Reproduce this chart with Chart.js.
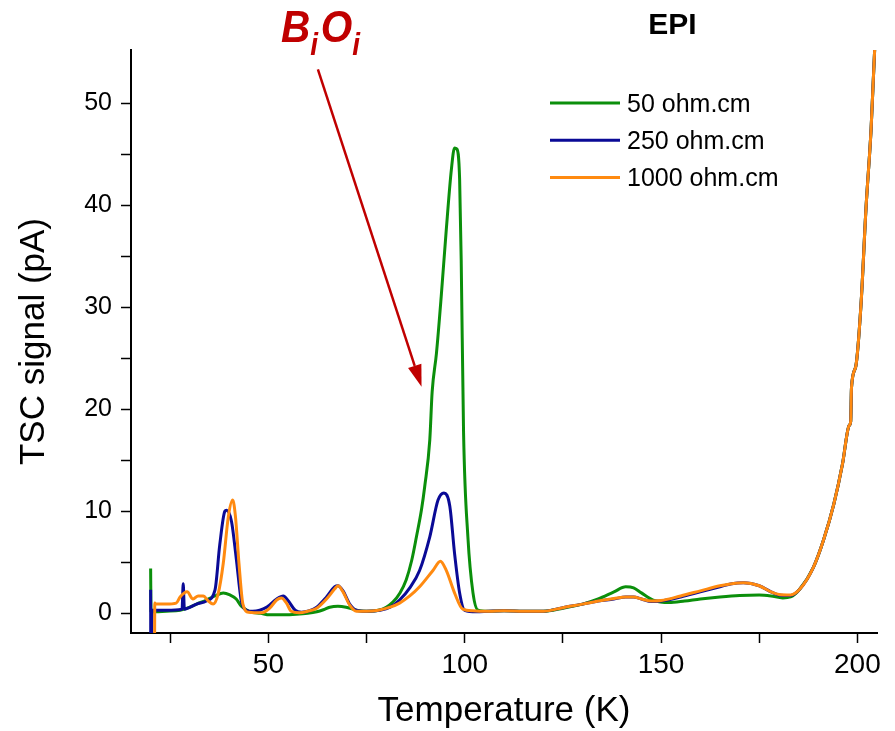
<!DOCTYPE html>
<html>
<head>
<meta charset="utf-8">
<script src="https://cdn.jsdelivr.net/npm/chart.js@4.4.1/dist/chart.umd.min.js"></script>
<style>
  html, body { margin: 0; padding: 0; background: #fff; }
  canvas { display: block; }
</style>
</head>
<body>
<canvas id="tscChart" width="895" height="731"></canvas>
<script>
const seriesLabels = ["50 ohm.cm", "250 ohm.cm", "1000 ohm.cm"];
const seriesColors = ["#0b8f0b", "#0a0a96", "#ff8a10"];

// 50 ohm.cm
const tempGreen = [20.0, 20.1, 20.5, 24, 27.5, 30, 31.7, 34.2, 36.4, 38.5, 40.2, 41.8, 43.1, 45.3, 48, 50.3, 54, 57.1, 60, 62.3, 64, 65.6, 67.7, 69.8, 72.4, 75, 78, 80, 81.7, 83.5, 85.1, 86.5, 87.7, 89, 89.8, 91.1, 91.7, 92.8, 94.0, 95.3, 96.6, 97.4, 98.0, 98.7, 99.1, 99.7, 100.8, 102.1, 103.4, 106, 110, 115, 120, 125, 130, 134, 138, 141, 143, 145, 148, 152, 156, 160, 165, 170, 175, 178, 181, 183, 185.3, 188.8, 191.4, 194, 196.2, 197.9, 198.3, 198.5, 199.6, 200.9, 202.2, 203.5, 204.4, 205.5];
const tscGreen = [4.4, 0.2, 0.15, 0.2, 0.3, 0.6, 0.9, 1.3, 1.7, 2.0, 1.8, 1.4, 0.7, 0.15, 0.0, -0.15, -0.15, -0.1, 0.0, 0.15, 0.35, 0.6, 0.7, 0.6, 0.3, 0.2, 0.3, 0.6, 1.1, 2.0, 3.3, 5.2, 7.5, 10.2, 12.4, 17.0, 21.7, 25.5, 31.0, 37.6, 43.5, 45.6, 45.5, 42.5, 34.6, 17.7, 7.5, 2.0, 0.3, 0.2, 0.25, 0.2, 0.2, 0.5, 0.9, 1.4, 2.1, 2.6, 2.5, 2.0, 1.3, 1.05, 1.2, 1.4, 1.6, 1.75, 1.8, 1.7, 1.5, 1.6, 2.35, 4.5, 7.2, 10.7, 14.6, 18.4, 18.8, 22.1, 24.2, 30.1, 39.7, 47.5, 55.2, 62];

// 250 ohm.cm
const tempBlue = [20.0, 20.05, 20.4, 24, 28.0, 28.3, 28.6, 29.5, 31.7, 34.2, 36.4, 37.6, 38.9, 39.3, 40.6, 41.8, 43.1, 44.4, 46, 49.6, 52.1, 53.8, 55.1, 56.8, 58.4, 60.5, 62.3, 64.8, 66.9, 67.7, 69.0, 70.7, 72.4, 75, 78.4, 81, 83.4, 86, 88.5, 91.1, 93.2, 94.7, 96.2, 97.4, 98.7, 100, 103, 106, 110, 115, 120, 125.5, 130, 134, 138, 141, 143, 145, 147.6, 150, 155, 160, 165, 168, 171, 175, 178, 180, 183, 185.3, 188.8, 191.4, 194, 196.2, 197.9, 198.3, 198.5, 199.6, 200.9, 202.2, 203.5, 204.4, 205.5];
const tscBlue = [2.3, -5, 0.3, 0.3, 0.4, 2.9, 0.4, 0.5, 0.9, 1.2, 2.3, 6.7, 10.0, 10.1, 9.0, 5.4, 1.2, 0.3, 0.2, 0.6, 1.4, 1.7, 1.2, 0.3, 0.1, 0.25, 0.6, 1.6, 2.6, 2.7, 2.2, 0.9, 0.3, 0.2, 0.3, 0.6, 1.3, 2.5, 4.2, 7.5, 11.1, 11.8, 10.5, 5.9, 2.0, 0.3, 0.15, 0.2, 0.25, 0.2, 0.2, 0.6, 0.9, 1.2, 1.4, 1.6, 1.6, 1.4, 1.15, 1.2, 1.6, 2.1, 2.6, 2.9, 3.0, 2.7, 2.1, 1.8, 1.75, 2.35, 4.5, 7.2, 10.7, 14.6, 18.4, 18.8, 22.1, 24.2, 30.1, 39.7, 47.5, 55.2, 62];

// 1000 ohm.cm
const tempOrange = [21.0, 21.05, 21.3, 24, 26.5, 27.5, 29.3, 30.8, 32.1, 33.4, 34.7, 35.9, 37.2, 38.5, 39.8, 40.9, 41.6, 42.5, 43.5, 45, 48.3, 50.3, 52.1, 53.3, 54.6, 55.8, 57.9, 60, 62.3, 64.8, 66.9, 67.7, 69, 70.7, 72.4, 75, 78, 81, 83.4, 86, 88.5, 91.9, 93.8, 95.3, 97.4, 99.5, 102, 106, 110, 115, 120, 125.5, 130, 134, 138, 141, 143, 145, 147.6, 150, 155, 160, 165, 168, 171, 175, 178, 180, 183, 185.3, 188.8, 191.4, 194, 196.2, 197.9, 198.3, 198.5, 199.6, 200.9, 202.2, 203.5, 204.4, 205.5];
const tscOrange = [-5, 1.0, 0.9, 0.9, 1.0, 1.6, 2.1, 1.4, 1.7, 1.7, 1.2, 0.9, 1.9, 4.9, 9.5, 11.1, 9.5, 4.9, 0.9, 0.1, 0.05, 0.5, 1.3, 1.5, 1.0, 0.2, 0.05, 0.2, 0.5, 1.4, 2.4, 2.7, 2.1, 0.8, 0.2, 0.2, 0.3, 0.6, 1.0, 1.7, 2.6, 4.2, 5.1, 4.2, 2.0, 0.4, 0.25, 0.2, 0.25, 0.2, 0.2, 0.6, 0.9, 1.2, 1.45, 1.6, 1.6, 1.4, 1.2, 1.25, 1.7, 2.2, 2.7, 2.9, 3.0, 2.7, 2.1, 1.85, 1.8, 2.35, 4.5, 7.2, 10.7, 14.6, 18.4, 18.8, 22.1, 24.2, 30.1, 39.7, 47.5, 55.2, 62];

const xTickValues = [25, 50, 75, 100, 125, 150, 175, 200];
const xTickLabels = [50, 100, 150, 200];
const yTickValues = [0, 5, 10, 15, 20, 25, 30, 35, 40, 45, 50];
const yTickLabels = [0, 10, 20, 30, 40, 50];

// annotation anchors in data units (K, pA)
const arrowFrom = [62.6, 53.3];
const arrowTo = [89.0, 22.2];
const peakLabelAt = [53.2, 56.0];
const panelLabelAt = [152.9, 57.6];

function toPoints(t, v) {
  return t.map((x, i) => ({ x: x, y: v[i] }));
}

const overlay = {
  id: "overlay",
  afterDatasetsDraw(chart) {
    const ctx = chart.ctx;
    const xs = chart.scales.x, ys = chart.scales.y;
    const area = chart.chartArea;
    ctx.save();

    // legend
    ctx.font = "25px 'Liberation Sans', Arial, sans-serif";
    ctx.textBaseline = "middle";
    ctx.textAlign = "left";
    chart.data.datasets.forEach((ds, i) => {
      const ly = area.top + 53 + i * 37.2;
      ctx.strokeStyle = ds.borderColor;
      ctx.lineWidth = 3;
      ctx.beginPath();
      ctx.moveTo(area.left + 419, ly);
      ctx.lineTo(area.left + 489, ly);
      ctx.stroke();
      ctx.fillStyle = "#000";
      ctx.fillText(ds.label, area.left + 496, ly + 2);
    });

    // EPI
    ctx.font = "bold 30px 'Liberation Sans', Arial, sans-serif";
    ctx.textAlign = "center";
    ctx.fillText("EPI", xs.getPixelForValue(panelLabelAt[0]), ys.getPixelForValue(panelLabelAt[1]));

    // arrow
    const ax0 = xs.getPixelForValue(arrowFrom[0]), ay0 = ys.getPixelForValue(arrowFrom[1]);
    const ax1 = xs.getPixelForValue(arrowTo[0]), ay1 = ys.getPixelForValue(arrowTo[1]);
    const ang = Math.atan2(ay1 - ay0, ax1 - ax0);
    const headLen = 22, headW = 7;
    ctx.strokeStyle = "#c00000";
    ctx.fillStyle = "#c00000";
    ctx.lineWidth = 2.5;
    ctx.beginPath();
    ctx.moveTo(ax0, ay0);
    ctx.lineTo(ax1 - headLen * Math.cos(ang), ay1 - headLen * Math.sin(ang));
    ctx.stroke();
    ctx.beginPath();
    ctx.moveTo(ax1, ay1);
    ctx.lineTo(ax1 - headLen * Math.cos(ang) + headW * Math.sin(ang), ay1 - headLen * Math.sin(ang) - headW * Math.cos(ang));
    ctx.lineTo(ax1 - headLen * Math.cos(ang) - headW * Math.sin(ang), ay1 - headLen * Math.sin(ang) + headW * Math.cos(ang));
    ctx.closePath();
    ctx.fill();

    // B_i O_i
    const bx = xs.getPixelForValue(peakLabelAt[0]), by = ys.getPixelForValue(peakLabelAt[1]);
    ctx.translate(bx, by);
    ctx.scale(0.9, 1);
    ctx.textAlign = "left";
    ctx.textBaseline = "alphabetic";
    const big = "italic bold 45px 'Liberation Sans', Arial, sans-serif";
    const small = "italic bold 31px 'Liberation Sans', Arial, sans-serif";
    let cx = 0;
    [["B", big, 0], ["i", small, 13], ["O", big, 0], ["i", small, 13]].forEach(p => {
      ctx.font = p[1];
      ctx.fillText(p[0], cx, p[2]);
      cx += ctx.measureText(p[0]).width + (p[1] === small ? 3 : 0);
    });
    ctx.restore();
  }
};

const axisFont = "'Liberation Sans', Arial, sans-serif";

new Chart(document.getElementById("tscChart"), {
  type: "line",
  data: {
    datasets: [
      { label: seriesLabels[0], data: toPoints(tempGreen, tscGreen), borderColor: seriesColors[0], order: 2 },
      { label: seriesLabels[1], data: toPoints(tempBlue, tscBlue), borderColor: seriesColors[1], order: 1 },
      { label: seriesLabels[2], data: toPoints(tempOrange, tscOrange), borderColor: seriesColors[2], order: 0 }
    ]
  },
  options: {
    responsive: false,
    animation: false,
    devicePixelRatio: 1,
    layout: { padding: { top: 50, right: 18, left: 0, bottom: 0 } },
    elements: {
      point: { radius: 0 },
      line: { borderWidth: 3, cubicInterpolationMode: "monotone", fill: false }
    },
    plugins: {
      legend: { display: false },
      tooltip: { enabled: false }
    },
    scales: {
      x: {
        type: "linear",
        min: 15,
        max: 205,
        afterFit: s => { s.height = 98; },
        afterBuildTicks: s => { s.ticks = xTickValues.map(v => ({ value: v })); },
        grid: { display: true, drawOnChartArea: false, drawTicks: true, tickLength: 10, tickWidth: 1.5, tickColor: "#000" },
        border: { display: true, color: "#000", width: 2 },
        ticks: {
          autoSkip: false,
          maxRotation: 0,
          padding: 5,
          color: "#000",
          font: { family: axisFont, size: 28 },
          callback: v => xTickLabels.includes(v) ? String(v) : ""
        },
        title: {
          display: true,
          text: "Temperature (K)",
          color: "#000",
          font: { family: axisFont, size: 35, lineHeight: 1.1 },
          padding: { top: 0, bottom: 0 }
        }
      },
      y: {
        type: "linear",
        min: -1.93,
        max: 55.2,
        afterFit: s => { s.width = 131; },
        afterBuildTicks: s => { s.ticks = yTickValues.map(v => ({ value: v })); },
        grid: { display: true, drawOnChartArea: false, drawTicks: true, tickLength: 10, tickWidth: 1.5, tickColor: "#000" },
        border: { display: true, color: "#000", width: 2 },
        ticks: {
          autoSkip: false,
          padding: 9,
          color: "#000",
          font: { family: axisFont, size: 25 },
          callback: v => yTickLabels.includes(v) ? String(v) : ""
        },
        title: {
          display: true,
          text: "TSC signal (pA)",
          color: "#000",
          font: { family: axisFont, size: 35, lineHeight: 1.1 },
          padding: { top: 15, bottom: 0 }
        }
      }
    }
  },
  plugins: [overlay]
});
</script>
</body>
</html>
